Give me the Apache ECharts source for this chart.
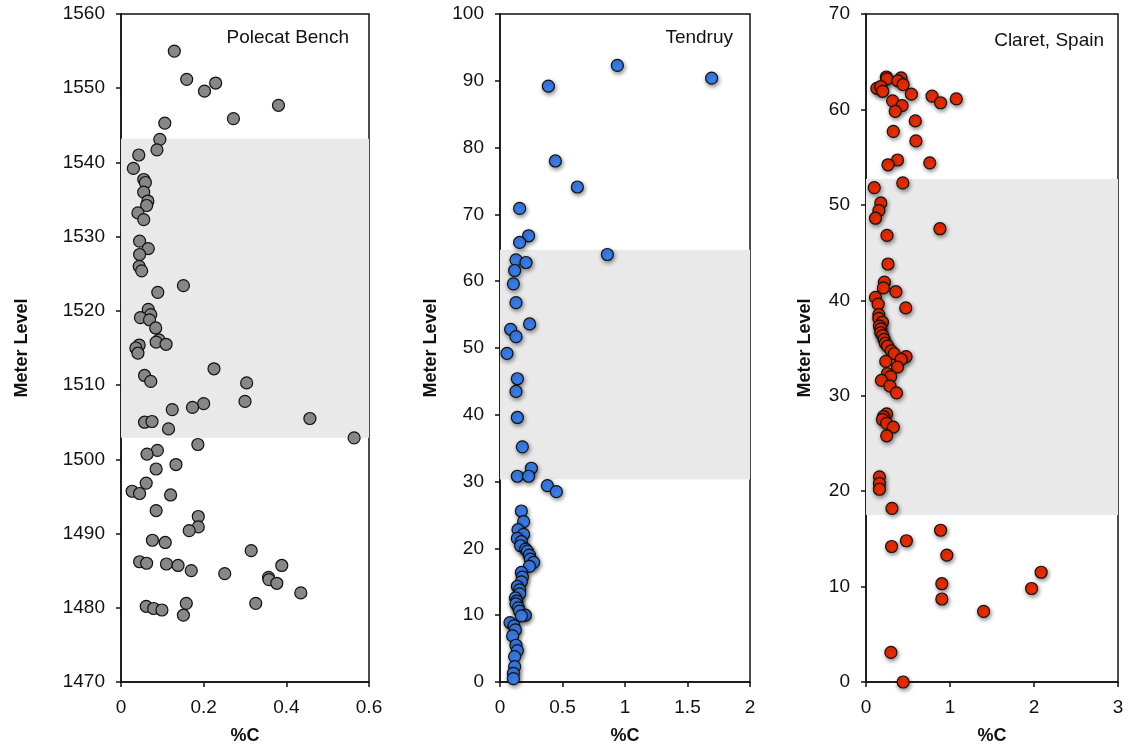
<!DOCTYPE html>
<html>
<head>
<meta charset="utf-8">
<script src="https://cdn.jsdelivr.net/npm/echarts@6/dist/echarts.min.js"></script>
<style>
html,body{margin:0;padding:0;background:#fff;}
#chart{width:1138px;height:750px;}
</style>
</head>
<body>
<div id="chart"></div>
<script>
// ---- Data ----
const panelTitles = ['Polecat Bench', 'Tendruy', 'Claret, Spain'];
const xAxisName = '%C';
const yAxisName = 'Meter Level';

const polecatC = [0.129,0.159,0.202,0.229,0.381,0.272,0.106,0.094,0.087,0.043,0.030,0.055,0.059,0.055,0.065,0.062,0.041,0.055,0.045,0.066,0.045,0.044,0.050,0.151,0.089,0.066,0.072,0.047,0.069,0.084,0.092,0.085,0.109,0.044,0.036,0.041,0.225,0.057,0.072,0.304,0.300,0.200,0.173,0.124,0.457,0.057,0.075,0.115,0.564,0.186,0.088,0.063,0.133,0.085,0.061,0.027,0.045,0.120,0.085,0.187,0.187,0.165,0.076,0.107,0.315,0.045,0.062,0.110,0.138,0.389,0.170,0.251,0.357,0.358,0.377,0.435,0.158,0.326,0.061,0.079,0.099,0.151];
const polecatLevel = [1555.0,1551.2,1549.6,1550.7,1547.7,1545.9,1545.3,1543.1,1541.7,1541.0,1539.2,1537.7,1537.3,1536.0,1534.8,1534.2,1533.2,1532.3,1529.4,1528.4,1527.6,1526.0,1525.4,1523.4,1522.5,1520.2,1519.5,1519.1,1518.8,1517.7,1516.1,1515.8,1515.5,1515.4,1515.0,1514.3,1512.2,1511.3,1510.5,1510.3,1507.8,1507.5,1507.0,1506.7,1505.5,1505.0,1505.1,1504.1,1502.9,1502.0,1501.2,1500.7,1499.3,1498.7,1496.8,1495.7,1495.4,1495.2,1493.1,1492.3,1490.9,1490.4,1489.1,1488.8,1487.7,1486.2,1486.0,1485.9,1485.7,1485.7,1485.0,1484.6,1484.1,1483.8,1483.3,1482.0,1480.6,1480.6,1480.2,1479.9,1479.7,1479.0];

const tendruyC = [0.939,1.693,0.387,0.443,0.619,0.157,0.229,0.157,0.859,0.128,0.208,0.117,0.107,0.128,0.237,0.085,0.128,0.056,0.139,0.128,0.139,0.179,0.251,0.139,0.229,0.379,0.451,0.171,0.189,0.144,0.189,0.139,0.171,0.165,0.205,0.219,0.235,0.243,0.269,0.235,0.171,0.179,0.171,0.139,0.157,0.157,0.123,0.133,0.128,0.147,0.157,0.203,0.171,0.080,0.112,0.123,0.101,0.128,0.139,0.117,0.117,0.107,0.107];
const tendruyLevel = [92.3,90.4,89.2,78.0,74.1,70.9,66.8,65.8,64.0,63.2,62.8,61.6,59.6,56.8,53.6,52.8,51.7,49.2,45.4,43.5,39.6,35.2,32.0,30.8,30.8,29.4,28.5,25.6,24.0,22.8,22.1,21.5,21.0,20.4,19.9,19.6,19.0,18.4,17.9,17.3,16.4,15.7,15.0,14.3,13.8,13.2,12.6,12.1,11.7,11.1,10.6,10.0,9.9,8.9,8.4,7.8,6.9,5.5,4.7,3.8,2.3,1.3,0.5];

const claretC = [0.242,0.418,0.250,0.379,0.442,0.129,0.176,0.199,0.540,0.786,1.075,0.888,0.317,0.430,0.348,0.587,0.325,0.594,0.375,0.262,0.759,0.438,0.098,0.176,0.153,0.113,0.880,0.250,0.262,0.219,0.207,0.356,0.113,0.145,0.473,0.153,0.153,0.196,0.160,0.176,0.176,0.199,0.215,0.231,0.258,0.301,0.336,0.477,0.418,0.235,0.375,0.254,0.293,0.184,0.285,0.364,0.246,0.207,0.196,0.246,0.325,0.246,0.160,0.160,0.160,0.309,0.888,0.481,0.305,0.962,2.085,0.903,1.971,0.903,1.400,0.297,0.442];
const claretLevel = [63.4,63.3,63.2,63.0,62.6,62.2,62.4,61.9,61.6,61.4,61.1,60.7,60.9,60.4,59.8,58.8,57.7,56.7,54.7,54.2,54.4,52.3,51.8,50.2,49.4,48.6,47.5,46.8,43.8,41.9,41.3,40.9,40.3,39.6,39.2,38.5,38.1,37.7,37.3,37.0,36.6,36.3,35.9,35.5,35.2,34.7,34.4,34.1,33.8,33.6,33.0,32.3,32.0,31.6,31.0,30.3,28.1,27.8,27.5,27.1,26.7,25.8,21.5,20.8,20.2,18.2,15.9,14.8,14.2,13.3,11.5,10.3,9.8,8.7,7.4,3.1,0.0];

// shaded intervals [bottom, top]
const polecatBand = [1502.9, 1543.2];
const tendruyBand = [30.3, 64.7];
const claretBand = [17.5, 52.7];

// axis ranges [min, max, interval]
const polecatX = [0, 0.6, 0.2];
const polecatY = [1470, 1560, 10];
const tendruyX = [0, 2, 0.5];
const tendruyY = [0, 100, 10];
const claretX = [0, 3, 1];
const claretY = [0, 70, 10];

// ---- Chart ----
const FONT = '"Liberation Sans", Arial, Helvetica, sans-serif';
const pairs = (xs, ys) => xs.map((x, i) => [x, ys[i]]);

const grids = [
  {left: 121, top: 14, width: 248, height: 669},
  {left: 500, top: 14, width: 250, height: 671},
  {left: 866, top: 14, width: 252, height: 673}
];
const yNameGaps = [90, 60, 52];
const xr = [polecatX, tendruyX, claretX];
const yr = [polecatY, tendruyY, claretY];
const bands = [polecatBand, tendruyBand, claretBand];
const dataSets = [pairs(polecatC, polecatLevel), pairs(tendruyC, tendruyLevel), pairs(claretC, claretLevel)];
const colors = ['#878787', '#3a7ff0', '#f02c00'];
const titleRight = [349, 733, 1104];
const titleY = [39, 39, 42];

const axisCommon = {
  axisLine: {show: true, lineStyle: {color: '#111', width: 1.5}},
  axisTick: {show: true, inside: false, length: 5, lineStyle: {color: '#111', width: 1.5}},
  splitLine: {show: false},
  axisLabel: {color: '#111', fontSize: 19, fontFamily: FONT, margin: 16, formatter: v => String(v)},
  nameTextStyle: {color: '#111', fontSize: 18, fontWeight: 'bold', fontFamily: FONT}
};

const option = {
  backgroundColor: '#fff',
  animation: false,
  grid: grids.map(g => Object.assign({show: true, borderColor: '#111', borderWidth: 1.5, backgroundColor: 'transparent'}, g)),
  xAxis: xr.map((r, i) => Object.assign({}, axisCommon, {
    type: 'value', gridIndex: i, min: r[0], max: r[1], interval: r[2],
    name: xAxisName, nameLocation: 'middle', nameGap: 45
  })),
  yAxis: yr.map((r, i) => Object.assign({}, axisCommon, {
    type: 'value', gridIndex: i, min: r[0], max: r[1], interval: r[2],
    name: yAxisName, nameLocation: 'middle', nameGap: yNameGaps[i], nameRotate: 90
  })),
  graphic: panelTitles.map((t, i) => ({
    type: 'text', right: 1138 - titleRight[i], top: titleY[i] - 11, z: 10,
    style: {text: t, fontSize: 19, fontFamily: FONT, fill: '#111'}
  })),
  series: []
};

for (let i = 0; i < 3; i++) {
  option.series.push({
    type: 'scatter', xAxisIndex: i, yAxisIndex: i, data: [], z: 1, silent: true,
    markArea: {
      silent: true,
      itemStyle: {color: '#e9e9e9'},
      data: [[{xAxis: xr[i][0], yAxis: bands[i][0]}, {xAxis: xr[i][1], yAxis: bands[i][1]}]]
    }
  });
  const shadow = i === 0 ? {} : {shadowBlur: 4, shadowColor: 'rgba(0,0,0,0.45)', shadowOffsetX: 1, shadowOffsetY: 2};
  option.series.push({
    type: 'scatter', xAxisIndex: i, yAxisIndex: i, z: 3,
    symbol: 'circle', symbolSize: 12,
    data: dataSets[i],
    itemStyle: Object.assign({color: colors[i], borderColor: '#111', borderWidth: 1.2, opacity: 1}, shadow)
  });
}

const chart = echarts.init(document.getElementById('chart'), null, {renderer: 'canvas'});
chart.setOption(option);
</script>
</body>
</html>
